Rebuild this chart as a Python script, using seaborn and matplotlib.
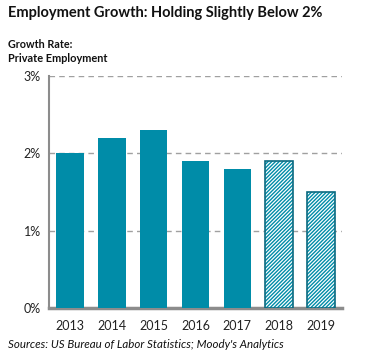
import matplotlib
matplotlib.use("Agg")
import matplotlib.pyplot as plt
import seaborn as sns
import pandas as pd
import numpy as np

years = ["2013", "2014", "2015", "2016", "2017", "2018", "2019"]
growth = [2.0, 2.2, 2.3, 1.9, 1.8, 1.9, 1.5]
forecast = [False, False, False, False, False, True, True]
yticks = [0, 1, 2, 3]
ytick_labels = ["0%", "1%", "2%", "3%"]

sns.set_theme(style="white")
plt.rcParams['font.family'] = ['Lato', 'DejaVu Sans']
plt.rcParams['hatch.linewidth'] = 1.0

TEAL = "#008CA8"
EDGE = "#0B6A80"

df = pd.DataFrame({"year": years, "growth": growth})

fig = plt.figure(figsize=(3.70, 3.63), dpi=100)
ax = fig.add_axes([49/370, 1 - 308/363, (342-49)/370, (308-76)/363])

sns.barplot(data=df, x="year", y="growth", color=TEAL, width=0.66, ax=ax,
            saturation=1, zorder=3)

for patch, fc in zip(ax.patches, forecast):
    if fc:
        patch.set_facecolor("white")
        patch.set_hatch("/" * 9)
        patch.set_edgecolor(EDGE)
        patch.set_linewidth(1.2)
        patch._hatch_color = matplotlib.colors.to_rgba(TEAL)
    else:
        patch.set_linewidth(0)

ax.set_ylim(0, 3)
ax.set_xlim(-0.5, 6.5)
ax.set_yticks(yticks)
ax.set_yticklabels(ytick_labels)
ax.set_xlabel("")
ax.set_ylabel("")
for y in [1, 2, 3]:
    ax.axhline(y, color="#A0A0A0", lw=1, ls=(0, (4, 3)), zorder=1)

for s in ["top", "right"]:
    ax.spines[s].set_visible(False)
ax.spines["left"].set_color("#8C8C8C")
ax.spines["left"].set_linewidth(1.5)
ax.spines["bottom"].set_color("#8C8C8C")
ax.spines["bottom"].set_linewidth(2.5)
ax.tick_params(axis="both", length=0, labelsize=9, colors="#222222", pad=6)
ax.tick_params(axis="x", pad=9)

renderer = fig.canvas.get_renderer()


def fitted_text(x, y, s, target_w, size, **kw):
    t = fig.text(x / 370, 1 - y / 363, s, fontsize=size, va="center", ha="left",
                 color="#111111", **kw)
    for _ in range(4):
        w = t.get_window_extent(renderer).width
        if w > 0:
            size = size * target_w / w
            t.set_fontsize(size)
    return t


fitted_text(8, 13, "Employment Growth: Holding Slightly Below 2%", 315, 12,
            fontweight="bold")
fitted_text(8, 45, "Growth Rate:", 65, 8.5, fontweight="bold")
fitted_text(8, 59, "Private Employment", 100, 8.5, fontweight="bold")
fitted_text(8, 345, "Sources: US Bureau of Labor Statistics; Moody's Analytics",
            277, 8.4, fontstyle="italic")

fig.savefig("out.png", dpi=100)
